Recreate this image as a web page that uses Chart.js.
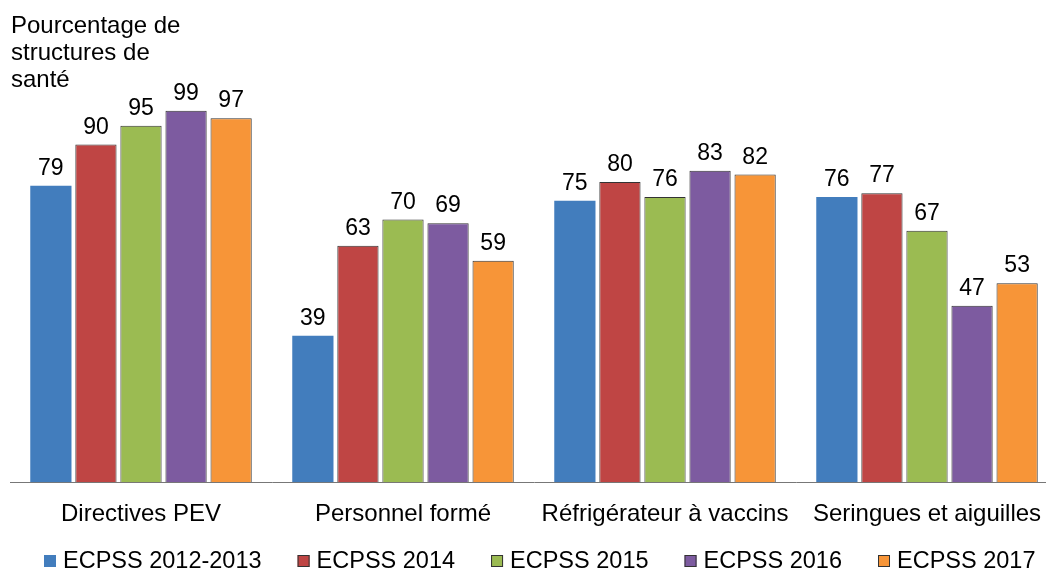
<!DOCTYPE html>
<html>
<head>
<meta charset="utf-8">
<script src="https://cdn.jsdelivr.net/npm/chart.js@4"></script>
<style>
  html, body { margin: 0; padding: 0; background: #fff; overflow: hidden; }
  #wrap { width: 1058px; height: 571px; }
</style>
</head>
<body>
<div id="wrap"><canvas id="bar-chart"></canvas></div>
<script>
var categories = ['Directives PEV', 'Personnel formé', 'Réfrigérateur à vaccins', 'Seringues et aiguilles'];
var seriesNames = ['ECPSS 2012-2013', 'ECPSS 2014', 'ECPSS 2015', 'ECPSS 2016', 'ECPSS 2017'];
var ecpss2012 = [79, 39, 75, 76];
var ecpss2014 = [90, 63, 80, 77];
var ecpss2015 = [95, 70, 76, 67];
var ecpss2016 = [99, 69, 83, 47];
var ecpss2017 = [97, 59, 82, 53];
var titleLines = ['Pourcentage de', 'structures de', 'santé'];

var colors = ['#427DBD', '#BF4544', '#9BBB52', '#7D5BA0', '#F79538'];
var values = [ecpss2012, ecpss2014, ecpss2015, ecpss2016, ecpss2017];

var font = 'Liberation Sans, Arial, sans-serif';

// axis title, value labels and a legend laid out like the original
var extras = {
  id: 'extras',
  afterDatasetsDraw: function(chart) {
    var ctx = chart.ctx;
    ctx.save();
    ctx.fillStyle = '#000';
    ctx.font = '23px ' + font;
    ctx.textAlign = 'center';
    ctx.textBaseline = 'alphabetic';
    chart.data.datasets.forEach(function(ds, i) {
      chart.getDatasetMeta(i).data.forEach(function(bar, j) {
        ctx.fillText(ds.data[j], bar.x, bar.y - 11);
      });
    });

    ctx.font = '24px ' + font;
    ctx.textAlign = 'left';
    titleLines.forEach(function(t, k) {
      ctx.fillText(t, 11, 33 + k * 27);
    });

    // legend
    ctx.font = '23.5px ' + font;
    var x = 44;
    chart.data.datasets.forEach(function(ds, i) {
      ctx.fillStyle = ds.backgroundColor;
      ctx.fillRect(x, 555, 12, 12);
      if (ds.borderWidth) {
        ctx.strokeStyle = ds.borderColor;
        ctx.lineWidth = 1;
        ctx.strokeRect(x + 0.5, 555.5, 11, 11);
      }
      ctx.fillStyle = '#000';
      ctx.fillText(ds.label, x + 19, 568);
      x += 19 + ctx.measureText(ds.label).width + 36;
    });
    ctx.restore();
  }
};

var ctx = document.getElementById('bar-chart').getContext('2d');
var myBarChart = new Chart(ctx, {
  type: 'bar',
  data: {
    labels: categories,
    datasets: values.map(function(v, i) {
      return {
        label: seriesNames[i],
        data: v,
        backgroundColor: colors[i],
        borderColor: i === 0 ? colors[i] : '#333',
        borderWidth: i === 0 ? 0 : 1,
        categoryPercentage: 0.86,
        barPercentage: 0.915
      };
    })
  },
  options: {
    responsive: true,
    maintainAspectRatio: false,
    animation: false,
    layout: { padding: { top: 107, left: 10, right: 0, bottom: 32 } },
    scales: {
      x: {
        grid: { display: false },
        border: { display: true, color: '#777', width: 1 },
        ticks: { color: '#000', font: { family: font, size: 24 }, padding: 10, maxRotation: 0 }
      },
      y: {
        display: false,
        min: 0,
        max: 100
      }
    },
    plugins: {
      legend: { display: false },
      tooltip: { enabled: false }
    }
  },
  plugins: [extras]
});
</script>
</body>
</html>
